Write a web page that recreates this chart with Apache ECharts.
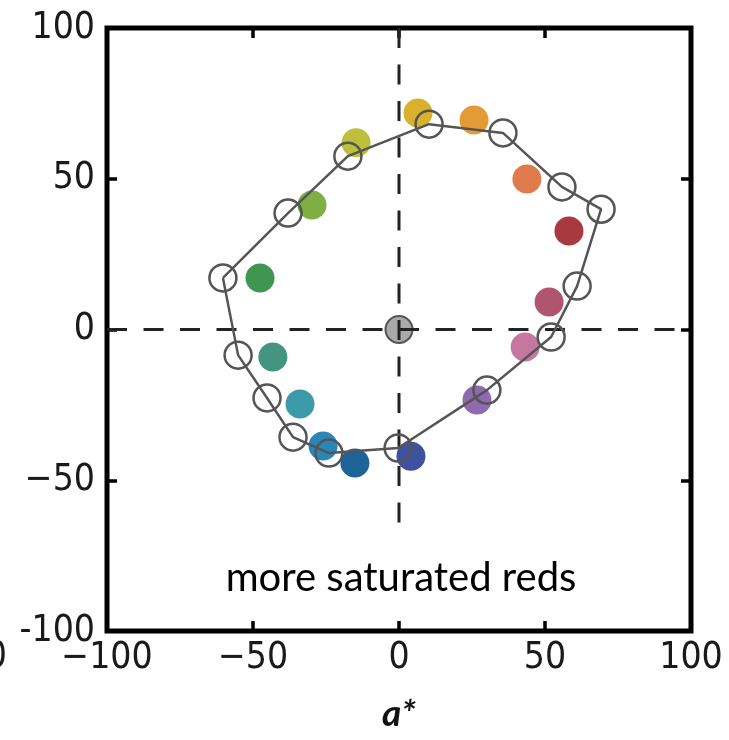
<!DOCTYPE html>
<html>
<head>
<meta charset="utf-8">
<script src="https://cdn.jsdelivr.net/npm/echarts@6/dist/echarts.min.js"></script>
<style>
html,body{margin:0;padding:0;background:#fff;}
#chart{width:729px;height:740px;}
</style>
</head>
<body>
<div id="chart"></div>
<script>
// ---- data ----
const filledA = [6.5, 25.7, 43.8, 58.2, 51.4, 43.2, 26.7, 4.1, -15.1, -26.0, -33.9, -43.2, -47.6, -29.8, -14.7];
const filledB = [71.8, 69.5, 49.9, 32.7, 9.1, -5.8, -23.4, -42.0, -44.3, -38.6, -24.7, -9.1, 17.1, 41.3, 61.9];
const filledColors = ['#d8b22c', '#e39b36', '#df7b4a', '#a83a3f', '#b0546f', '#c577a0', '#9069ae', '#3f52a0',
                      '#1d6499', '#2a86b7', '#3d9aa9', '#43957f', '#3f9552', '#7fae43', '#bdc03c'];
const openA = [-60.3, -38.0, -17.5, 10.3, 35.6, 55.8, 69.2, 61.0, 52.1, 30.1, -0.3, -24.0, -36.3, -45.2, -55.1];
const openB = [17.1, 38.6, 57.5, 68.1, 65.2, 47.3, 39.9, 14.4, -2.5, -20.1, -39.3, -41.0, -35.7, -22.7, -8.5];
const centerPoint = [0, 0];
const dashVertical = [[0, 100], [0, -64]];
const dashHorizontal = [[-100, 0], [100, 0]];
const xTicks = [-100, -50, 0, 50, 100];
const xTickLabels = ['\u2212100', '\u221250', '0', '50', '100'];
const yTicks = [-100, -50, 0, 50, 100];
const yTickLabels = ['-100', '\u221250', '0', '50', '100'];
const annotation = 'more saturated reds';
const xName = 'a*';

// ---- build ----
const tickFont = "'DejaVu Sans Condensed', 'DejaVu Sans', sans-serif";
const filledData = filledA.map((a, i) => ({value: [a, filledB[i]], itemStyle: {color: filledColors[i], opacity: 1}}));
const openData = openA.map((a, i) => [a, openB[i]]);
const polyData = openData.concat([openData[0]]);

const chart = echarts.init(document.getElementById('chart'), null, {renderer: 'canvas'});
const baseAxis = {
  min: -100, max: 100, interval: 50,
  axisLine: {show: false, onZero: false},
  splitLine: {show: false},
  axisTick: {show: true, inside: true, length: 10, lineStyle: {color: '#000', width: 3.5}}
};
chart.setOption({
  animation: false,
  backgroundColor: '#fff',
  grid: {left: 107, right: 38, top: 28, bottom: 109, show: true, borderColor: '#000', borderWidth: 5,
         containLabel: false, outerBoundsMode: 'none'},
  xAxis: [
    Object.assign({}, baseAxis, {
      type: 'value', position: 'bottom',
      axisLabel: {show: true, margin: 9, fontFamily: tickFont, fontSize: 37, color: '#1a1a1a',
        formatter: v => xTickLabels[xTicks.indexOf(v)]},
      name: xName, nameLocation: 'middle', nameGap: 65,
      nameTextStyle: {fontFamily: 'Lato', fontStyle: 'italic', fontWeight: 'bold', fontSize: 37, color: '#111'}
    }),
    Object.assign({}, baseAxis, {type: 'value', position: 'top', axisLabel: {show: false}})
  ],
  yAxis: [
    Object.assign({}, baseAxis, {
      type: 'value', position: 'left',
      axisLabel: {show: true, margin: 12, fontFamily: tickFont, fontSize: 37, color: '#1a1a1a',
        formatter: v => yTickLabels[yTicks.indexOf(v)]}
    }),
    Object.assign({}, baseAxis, {type: 'value', position: 'right', axisLabel: {show: false}})
  ],
  series: [
    {
      type: 'scatter', z: 2, data: [centerPoint], symbolSize: 27,
      itemStyle: {color: '#a9a9a9', borderColor: '#555', borderWidth: 2, opacity: 1}
    },
    {
      type: 'line', z: 3, data: dashHorizontal, symbol: 'none',
      lineStyle: {color: '#222', width: 3, type: [20, 16.5]}
    },
    {
      type: 'line', z: 3, data: dashVertical, symbol: 'none',
      lineStyle: {color: '#222', width: 3, type: [20, 16.5]}
    },
    {
      type: 'scatter', z: 4, data: filledData, symbolSize: 29
    },
    {
      type: 'line', z: 5, data: polyData, symbol: 'none',
      lineStyle: {color: '#555', width: 2.5}
    },
    {
      type: 'scatter', z: 6, data: openData, symbolSize: 27,
      itemStyle: {color: 'rgba(0,0,0,0)', borderColor: '#555', borderWidth: 2.5, opacity: 1}
    }
  ],
  graphic: [
    {
      type: 'text', x: 401, y: 578, z: 10,
      style: {text: annotation, fontFamily: 'Lato', fontSize: 40, fill: '#000', textAlign: 'center', textVerticalAlign: 'middle'}
    },
    {
      type: 'text', x: 7, y: 657, z: 10,
      style: {text: '100', fontFamily: tickFont, fontSize: 37, fill: '#1a1a1a', textAlign: 'right', textVerticalAlign: 'middle'}
    }
  ]
});
</script>
</body>
</html>
